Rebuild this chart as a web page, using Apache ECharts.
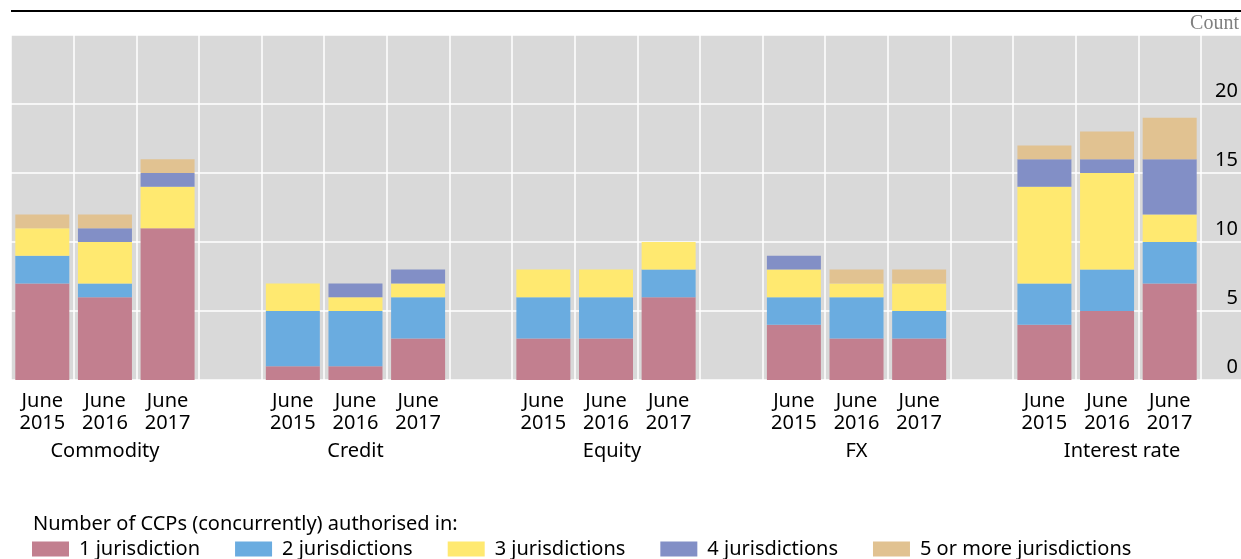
<!DOCTYPE html>
<html>
<head>
<meta charset="utf-8">
<script src="https://cdn.jsdelivr.net/npm/echarts@6/dist/echarts.min.js"></script>
<style>
  html, body { margin: 0; padding: 0; background: #fff; }
  #chart { width: 1241px; height: 559px; }
</style>
</head>
<body>
<div id="chart"></div>
<script>
// one slot per bar, empty slots are the gaps between product groups
const categories = [
  'June\n2015', 'June\n2016', 'June\n2017', '',
  'June\n2015', 'June\n2016', 'June\n2017', '',
  'June\n2015', 'June\n2016', 'June\n2017', '',
  'June\n2015', 'June\n2016', 'June\n2017', '',
  'June\n2015', 'June\n2016', 'June\n2017'
];
const groups = ['Commodity', 'Credit', 'Equity', 'FX', 'Interest rate'];

const oneJur   = [7, 6, 11, null, 1, 1, 3, null, 3, 3, 6, null, 4, 3, 3, null, 4, 5, 7];
const twoJur   = [2, 1, 0, null, 4, 4, 3, null, 3, 3, 2, null, 2, 3, 2, null, 3, 3, 3];
const threeJur = [2, 3, 3, null, 2, 1, 1, null, 2, 2, 2, null, 2, 1, 2, null, 7, 7, 2];
const fourJur  = [0, 1, 1, null, 0, 1, 1, null, 0, 0, 0, null, 1, 0, 0, null, 2, 1, 4];
const fiveJur  = [1, 1, 1, null, 0, 0, 0, null, 0, 0, 0, null, 0, 1, 1, null, 1, 2, 3];

const yTicks = [0, 5, 10, 15, 20];

const seriesDefs = [
  { name: '1 jurisdiction', data: oneJur, color: '#c27f8f' },
  { name: '2 jurisdictions', data: twoJur, color: '#6aace0' },
  { name: '3 jurisdictions', data: threeJur, color: '#ffe970' },
  { name: '4 jurisdictions', data: fourJur, color: '#828fc6' },
  { name: '5 or more jurisdictions', data: fiveJur, color: '#e1c291' }
];

const FONT = 'Noto Sans';
const chart = echarts.init(document.getElementById('chart'));

const series = seriesDefs.map(s => ({
  name: s.name,
  type: 'bar',
  stack: 'total',
  data: s.data,
  barWidth: 54,
  itemStyle: { color: s.color },
  emphasis: { disabled: true }
}));

// group names sit under the middle bar; a couple are nudged right as in the original
const groupRich = {};
groups.forEach((g, i) => {
  const nudge = i === 4 ? 30 : i === 2 ? 12 : 0;
  groupRich['g' + i] = {
    fontSize: 20, lineHeight: 27, color: '#000', fontFamily: FONT,
    verticalAlign: 'bottom', padding: [0, 0, 0, nudge]
  };
});

chart.setOption({
  animation: false,
  textStyle: { fontFamily: FONT },
  title: {
    text: 'Count',
    right: 2,
    top: 14,
    padding: 0,
    textStyle: { fontFamily: 'Liberation Serif', fontSize: 20, fontWeight: 'normal', color: '#808080' }
  },
  graphic: [
    { type: 'line', shape: { x1: 11, y1: 11, x2: 1241, y2: 11 }, style: { stroke: '#000', lineWidth: 2 } },
    {
      type: 'text', left: 33, top: 514,
      style: { text: 'Number of CCPs (concurrently) authorised in:', font: '20px "Noto Sans"', fill: '#000' }
    }
  ],
  legend: {
    left: 32,
    top: 539,
    padding: 0,
    itemWidth: 37,
    itemHeight: 15,
    itemGap: 35,
    icon: 'rect',
    selectedMode: false,
    textStyle: { fontSize: 20, color: '#000', fontFamily: FONT, padding: [0, 0, 0, 5] },
    data: seriesDefs.map(s => s.name)
  },
  grid: [
    { left: 11, right: 40, top: 35, bottom: 179, show: true, backgroundColor: '#d9d9d9', borderWidth: 0 },
    { left: 1201, right: 0, top: 35, bottom: 179, show: true, backgroundColor: '#d9d9d9', borderWidth: 0 }
  ],
  xAxis: [
    {
      type: 'category',
      gridIndex: 0,
      data: categories,
      axisLine: { show: false },
      axisTick: { show: false },
      splitLine: { show: true, interval: 0, lineStyle: { color: '#fff', width: 1.5 } },
      axisLabel: {
        interval: 0,
        margin: 10,
        color: '#000',
        fontSize: 20,
        lineHeight: 22,
        formatter: (val, idx) => {
          if (idx % 4 === 1) {
            const g = (idx - 1) / 4;
            return val + '\n{g' + g + '|' + groups[g] + '}';
          }
          return val;
        },
        rich: groupRich
      }
    },
    { type: 'category', gridIndex: 1, data: [''], show: false }
  ],
  yAxis: [
    {
      type: 'value',
      gridIndex: 0,
      min: 0,
      max: 25,
      interval: 5,
      position: 'right',
      axisLine: { show: false },
      axisTick: { show: false },
      splitLine: { show: true, lineStyle: { color: '#fff', width: 1.5 } },
      axisLabel: {
        margin: 37,
        align: 'right',
        verticalAlign: 'bottom',
        padding: [0, 0, 3, 0],
        color: '#000',
        fontSize: 20,
        formatter: v => (yTicks.includes(v) ? String(v) : '')
      }
    },
    {
      type: 'value',
      gridIndex: 1,
      min: 0,
      max: 25,
      interval: 5,
      axisLine: { show: false },
      axisTick: { show: false },
      axisLabel: { show: false },
      splitLine: { show: true, lineStyle: { color: '#fff', width: 1.5 } }
    }
  ],
  series
});
</script>
</body>
</html>
